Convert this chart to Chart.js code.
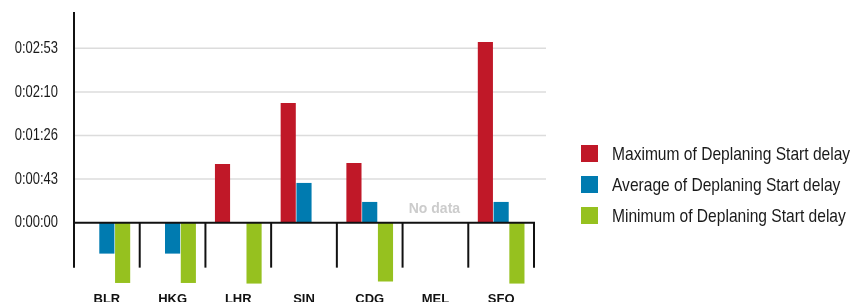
<!DOCTYPE html>
<html>
<head>
<meta charset="utf-8">
<script src="https://cdn.jsdelivr.net/npm/chart.js@4.4.1/dist/chart.umd.min.js"></script>
<style>
html, body { margin:0; padding:0; width:861px; height:302px; overflow:hidden; background:#fff; }
#wrap { position:relative; width:861px; height:316px; }
</style>
</head>
<body>
<div id="wrap"><canvas id="c"></canvas></div>
<script>
// Data (seconds)
const categories = ['BLR', 'HKG', 'LHR', 'SIN', 'CDG', 'MEL', 'SFO'];
const maxDelay = [null, null, 58.3, 119, 59.3, null, 179.6];
const avgDelay = [-30.8, -30.8, null, 39.5, 20.6, null, 20.6];
const minDelay = [-60, -60, -60.6, null, -58.6, null, -60.6];
const tickValues = [0, 43.333, 86.667, 130, 173.333];
const tickLabels = ['0:00:00', '0:00:43', '0:01:26', '0:02:10', '0:02:53'];
const seriesNames = ['Maximum of Deplaning Start delay', 'Average of Deplaning Start delay', 'Minimum of Deplaning Start delay'];
const seriesColors = ['#C01828', '#007BB0', '#96C11F'];

const SANS = '"Liberation Sans", Arial, Helvetica, sans-serif';
const CONDENSE = 0.82;

function condensedText(ctx, text, x, y, font, align) {
  ctx.save();
  ctx.font = font;
  ctx.textAlign = align;
  ctx.translate(x, y);
  ctx.scale(CONDENSE, 1);
  ctx.fillText(text, 0, 0);
  ctx.restore();
}

const decor = {
  id: 'decor',
  beforeDatasetsDraw(chart) {
    const { ctx, chartArea: a, scales: { y } } = chart;
    ctx.save();
    ctx.strokeStyle = '#dcdcdc';
    ctx.lineWidth = 1.5;
    y.ticks.forEach(t => {
      if (t.value === 0) return;
      const py = y.getPixelForValue(t.value);
      ctx.beginPath();
      ctx.moveTo(a.left, py);
      ctx.lineTo(a.right + 12, py);
      ctx.stroke();
    });
    ctx.restore();
  },
  afterDatasetsDraw(chart) {
    const { ctx, chartArea: a, scales: { x, y } } = chart;
    const y0 = y.getPixelForValue(0);
    const n = chart.data.labels.length;
    ctx.save();
    ctx.strokeStyle = '#111';
    ctx.lineWidth = 2;
    // y axis line
    ctx.beginPath();
    ctx.moveTo(a.left, a.top);
    ctx.lineTo(a.left, y0 + 45);
    ctx.stroke();
    // zero line
    ctx.beginPath();
    ctx.moveTo(a.left, y0);
    ctx.lineTo(a.right + 1, y0);
    ctx.stroke();
    // category separators
    for (let i = 0; i < n; i++) {
      const xr = i < n - 1 ? (x.getPixelForValue(i) + x.getPixelForValue(i + 1)) / 2 : a.right;
      ctx.beginPath();
      ctx.moveTo(xr, y0);
      ctx.lineTo(xr, y0 + 45);
      ctx.stroke();
    }
    // y tick labels (condensed face)
    ctx.fillStyle = '#1a1a1a';
    ctx.textBaseline = 'middle';
    y.ticks.forEach((t, i) => {
      condensedText(ctx, tickLabels[i], a.left - 16, y.getPixelForValue(t.value) + 0.5, '15.8px ' + SANS, 'right');
    });
    // No data labels
    ctx.fillStyle = '#cccccc';
    ctx.font = 'bold 14px ' + SANS;
    ctx.textAlign = 'center';
    ctx.textBaseline = 'middle';
    for (let i = 0; i < n; i++) {
      const empty = chart.data.datasets.every(ds => ds.data[i] === null);
      if (empty) ctx.fillText('No data', x.getPixelForValue(i) - 1, y0 - 14);
    }
    // legend
    chart.data.datasets.forEach((ds, k) => {
      const top = 145 + k * 31;
      ctx.fillStyle = ds.backgroundColor;
      ctx.fillRect(581, top, 17, 17);
      ctx.fillStyle = '#1a1a1a';
      ctx.textBaseline = 'middle';
      condensedText(ctx, ds.label, 612, top + 9.5, '19px ' + SANS, 'left');
    });
    ctx.restore();
  }
};

new Chart(document.getElementById('c'), {
  type: 'bar',
  data: {
    labels: categories,
    datasets: [
      { label: seriesNames[0], data: maxDelay, backgroundColor: seriesColors[0] },
      { label: seriesNames[1], data: avgDelay, backgroundColor: seriesColors[1] },
      { label: seriesNames[2], data: minDelay, backgroundColor: seriesColors[2] }
    ]
  },
  options: {
    responsive: true,
    maintainAspectRatio: false,
    animation: false,
    devicePixelRatio: 1,
    layout: { padding: { top: 12, right: 327, left: 0, bottom: 0 } },
    datasets: { bar: { categoryPercentage: 0.72, barPercentage: 0.96 } },
    plugins: { legend: { display: false }, tooltip: { enabled: false } },
    scales: {
      x: {
        grid: { display: false, drawTicks: false },
        border: { display: false },
        ticks: { color: '#111', font: { family: SANS, size: 13, weight: 'bold' }, padding: 3, maxRotation: 0 },
        afterFit(s) { s.height = 27; s.paddingLeft = 0; s.paddingRight = 0; }
      },
      y: {
        min: -66,
        max: 209.5,
        grid: { display: false, drawTicks: false },
        border: { display: false },
        afterBuildTicks(s) { s.ticks = tickValues.map(v => ({ value: v })); },
        ticks: { display: false },
        afterFit(s) { s.width = 74; s.paddingTop = 0; s.paddingBottom = 0; }
      }
    }
  },
  plugins: [decor]
});
</script>
</body>
</html>
